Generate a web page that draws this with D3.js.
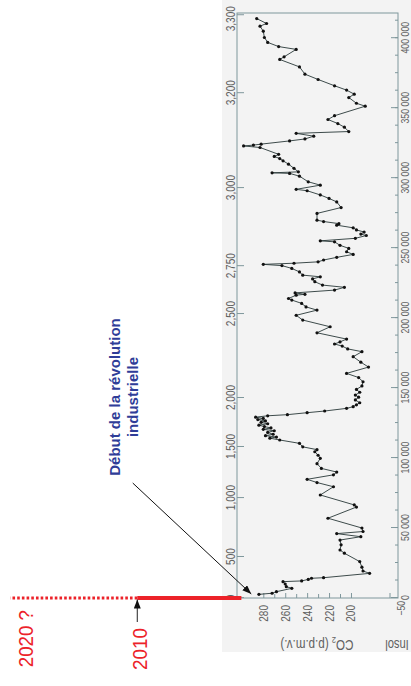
<!DOCTYPE html>
<html>
<head>
<meta charset="utf-8">
<script src="https://cdn.jsdelivr.net/npm/d3@7"></script>
<style>
  html, body { margin: 0; padding: 0; background: #ffffff; }
  svg { display: block; }
  text { font-family: "Liberation Sans", Arial, Helvetica, sans-serif; }
</style>
</head>
<body>
<svg id="chart" width="411" height="686"></svg>
<script>
// Vostok ice core record: atmospheric CO2 over the last ~420 000 years
const ageKyr = [
  2.6, 3.4, 4.5, 6.9, 8.1, 10.0, 11.7, 12.2, 13.3, 14.1, 14.5, 17.6, 19.3, 22.0, 26.0,
  32.0, 34.3, 38.0, 41.4, 43.8, 46.0, 47.5, 50.0, 57.0, 65.0, 66.5, 73.6, 79.5, 82.5,
  84.8, 88.0, 90.0, 92.6, 96.0, 99.8, 102.0, 104.5, 106.0, 108.0, 110.5, 112.9, 114.2,
  115.0, 116.0, 117.0, 118.3, 119.5, 120.5, 121.5, 122.5, 123.5, 124.5, 125.5, 126.5,
  127.5, 128.3, 129.2, 130.2, 131.0, 132.4, 133.6, 135.5, 136.7, 138.0, 139.5, 141.5,
  143.5, 145.0, 147.0, 149.0, 151.5, 154.5, 157.5, 160.5, 165.0, 168.5, 172.4, 176.0,
  178.0, 180.0, 181.5, 183.0, 185.0, 189.5, 193.8, 198.6, 202.0, 205.7, 208.0, 210.5,
  212.9, 214.0, 216.4, 217.0, 218.0, 220.0, 222.0, 223.6, 226.0, 228.0, 229.5, 230.7,
  233.0, 235.5, 237.5, 238.4, 239.2, 240.2, 241.5, 243.4, 245.5, 247.4, 249.8, 252.0,
  254.5, 255.2, 257.0, 259.0, 260.0, 261.5, 263.0, 264.5, 266.4, 267.5, 269.0, 270.0,
  274.8, 279.0, 283.0, 285.5, 288.0, 291.0, 292.0, 295.0, 297.4, 301.4, 303.4, 303.8,
  304.5, 307.0, 310.0, 312.4, 314.0, 315.5, 317.0, 321.9, 323.0, 323.6, 324.3, 326.6,
  328.0, 330.0, 332.0, 333.3, 336.4, 339.0, 341.9, 344.6, 351.4, 353.5, 357.6, 360.0,
  362.9, 366.0, 370.5, 374.3, 379.5, 384.8, 386.7, 392.0, 394.0, 397.0, 400.5, 405.0,
  408.6, 410.5, 414.0
];
const co2Ppm = [
  284, 272, 268, 254, 259, 260, 262, 245, 239, 236, 225, 183, 189, 190, 192,
  206, 210, 209, 210, 191, 213, 189, 190, 221, 195, 197, 228, 216, 231,
  240, 216, 213, 227, 231, 228, 230, 233, 231, 244, 247, 265, 274,
  268, 278, 271, 276, 270, 280, 273, 279, 284, 276, 282, 278,
  285, 280, 287, 276, 258, 240, 224, 204, 198, 195, 192, 196,
  193, 196, 192, 195, 190, 189, 193, 204, 184, 191, 198, 190,
  203, 208, 215, 210, 204, 231, 219, 244, 250, 231, 241, 245,
  254, 257, 250, 242, 251, 215, 206, 226, 233, 235, 228, 244,
  247, 254, 263, 280, 252, 230, 225, 213, 198, 204, 202, 210,
  215, 228, 196, 186, 191, 188, 195, 198, 213, 211, 225, 231,
  231, 209, 213, 220, 228, 240, 250, 228, 239, 247, 256, 272,
  248, 252, 257, 262, 265, 270, 266, 283, 298, 289, 282, 256,
  242, 234, 250, 202, 206, 212, 221, 215, 187, 195, 202, 197,
  204, 215, 230, 242, 247, 265, 261, 250, 266, 276, 279, 280,
  283, 277, 286
];

// depth of the ice (m) and the age (kyr) reached at that depth
const depthTicks      = [0, 500, 1000, 1500, 2000, 2500, 2750, 3000, 3200, 3300];
const depthTickAgeKyr = [0, 29.3, 71.4, 107.9, 142.9, 202.9, 237.1, 292.9, 360.7, 416.4];

const ageMajorKyr = [0, 50, 100, 150, 200, 250, 300, 350, 400];
const ageMinorKyr = d3.range(0, 418, 12.5);
const co2LabelTicks = [200, 220, 240, 260, 280];
const co2MinorTicks = [210, 230, 250, 270];

// present-day rise drawn on the CO2 scale
const preIndustrialPpm = 300;
const modernLabels = ["2010", "2020 ?"];
const modernPpm = [395, 497];
const projectionEndPpm = 511;

const noteLines = ["Début de la révolution", "industrielle"];
const noteAt = { age: 143.6, ppm: 411 };
const noteTarget = { age: 2.9, ppm: 291 };

const W = 411, H = 686;
const RED = "#ec2229", BLUE = "#2f3d98", AXIS = "#7f979c", LABEL = "#616161";

const svg = d3.select("#chart");

svg.append("defs").append("marker")
  .attr("id", "head").attr("markerUnits", "userSpaceOnUse")
  .attr("markerWidth", 9).attr("markerHeight", 7)
  .attr("refX", 9).attr("refY", 3.5).attr("orient", "auto")
  .append("path").attr("d", "M0,0 L9,3.5 L0,7 Z").attr("fill", "#111");

// the figure is laid out with age running left to right, then turned a quarter turn
const L = svg.append("g").attr("transform", `translate(0,${H}) rotate(-90)`);

const x = d3.scaleLinear().domain([0, 418]).range([88, 673]);
const y = d3.scaleLinear().domain([158, 304]).range([397, 237]);

// shrink a label horizontally like the condensed type of the figure
function squeeze(sel, k) {
  sel.each(function () {
    const w = this.getComputedTextLength();
    d3.select(this).attr("textLength", w * k).attr("lengthAdjust", "spacingAndGlyphs");
  });
}

// paper panel behind the graph
L.append("rect").attr("x", 34).attr("y", 222).attr("width", H - 34).attr("height", W - 222)
  .attr("fill", "#f3f3f3");

// age axis (years BP)
const ageMinorAxis = L.append("g").attr("transform", `translate(0,${y(158) + 1})`)
  .call(d3.axisBottom(x).tickValues(ageMinorKyr).tickSize(-3).tickSizeOuter(0).tickFormat(""));
const ageAxis = L.append("g").attr("transform", `translate(0,${y(158) + 1})`)
  .call(d3.axisBottom(x).tickValues(ageMajorKyr).tickSize(-7).tickSizeOuter(0).tickPadding(3)
    .tickFormat(d => d3.format(",")(d * 1000).replace(/,/g, " ")));

// depth axis (m)
const depthAxis = L.append("g").attr("transform", `translate(0,${y(304)})`)
  .call(d3.axisTop(x).tickValues(depthTickAgeKyr).tickSize(-7).tickSizeOuter(0).tickPadding(2)
    .tickFormat((d, i) => d3.format(",")(depthTicks[i])));

// CO2 axis
const co2MinorAxis = L.append("g").attr("transform", `translate(${x(0)},0)`)
  .call(d3.axisLeft(y).tickValues(co2MinorTicks).tickSize(-4).tickSizeOuter(0).tickFormat(""));
const co2Axis = L.append("g").attr("transform", `translate(${x(0)},0)`)
  .call(d3.axisLeft(y).tickValues(co2LabelTicks).tickSize(-5).tickSizeOuter(0).tickPadding(7));

[ageMinorAxis, ageAxis, depthAxis, co2MinorAxis, co2Axis].forEach(g => {
  g.select(".domain").remove();
  g.selectAll("line").attr("stroke", AXIS).attr("stroke-width", 1);
  g.selectAll("text").attr("fill", LABEL).attr("font-family", null);
});
ageAxis.selectAll("text").attr("font-size", 11).call(squeeze, 0.8);
depthAxis.selectAll("text").attr("font-size", 12).call(squeeze, 0.84);
// keep the deepest label clear of the sheet edge
depthAxis.selectAll("text").filter((d, i) => i === depthTicks.length - 1).attr("dx", -4);
co2Axis.selectAll("text").attr("font-size", 12.5).call(squeeze, 0.8);

// frame
L.append("rect")
  .attr("x", x(0)).attr("y", y(304))
  .attr("width", x(418) - x(0)).attr("height", y(158) + 1 - y(304))
  .attr("fill", "none").attr("stroke", AXIS).attr("stroke-width", 1);

// insolation scale stub below the CO2 axis
L.append("line").attr("x1", x(0)).attr("x2", x(0) + 5).attr("y1", 390).attr("y2", 390)
  .attr("stroke", AXIS);
L.append("text").attr("x", x(0) - 3).attr("y", 405).attr("text-anchor", "end")
  .attr("font-size", 11).attr("fill", LABEL).text("−50").call(squeeze, 0.78);

// axis titles
const co2Title = L.append("text")
  .attr("transform", `translate(46,${y(231)}) rotate(-90)`)
  .attr("text-anchor", "middle").attr("font-size", 14).attr("fill", LABEL);
co2Title.append("tspan").text("CO");
co2Title.append("tspan").attr("font-size", 9).attr("dy", 3).text("2");
co2Title.append("tspan").attr("dy", -3).text(" (p.p.m.v.)");
co2Title.call(squeeze, 0.83);
L.append("text")
  .attr("transform", "translate(46,397) rotate(-90)")
  .attr("text-anchor", "middle").attr("font-size", 14).attr("fill", LABEL)
  .text("Insol").call(squeeze, 0.8);

// CO2 record
const record = ageKyr.map((a, i) => ({ age: a, ppm: co2Ppm[i] }));
L.append("path").datum(record)
  .attr("fill", "none").attr("stroke", "#283838").attr("stroke-width", 0.9)
  .attr("d", d3.line().x(d => x(d.age)).y(d => y(d.ppm)));
L.append("g").selectAll("circle").data(record).join("circle")
  .attr("cx", d => x(d.age)).attr("cy", d => y(d.ppm)).attr("r", 1.6).attr("fill", "#111");

// modern CO2: measured (solid) and projected (dotted)
L.append("line").attr("x1", x(0)).attr("x2", x(0))
  .attr("y1", y(modernPpm[0])).attr("y2", y(projectionEndPpm))
  .attr("stroke", RED).attr("stroke-width", 2.8).attr("stroke-dasharray", "2.6,2.1");
L.append("line").attr("x1", x(0)).attr("x2", x(0))
  .attr("y1", y(preIndustrialPpm)).attr("y2", y(modernPpm[0]))
  .attr("stroke", RED).attr("stroke-width", 4);

L.append("line").attr("x1", x(0) - 24).attr("x2", x(0) - 1.5)
  .attr("y1", y(modernPpm[0])).attr("y2", y(modernPpm[0]))
  .attr("stroke", "#222").attr("stroke-width", 1).attr("marker-end", "url(#head)");

L.append("text").attr("x", x(0) - 30).attr("y", y(modernPpm[0]) + 9.5)
  .attr("text-anchor", "end").attr("font-size", 21).attr("fill", RED)
  .text(modernLabels[0]).call(squeeze, 0.9);
L.append("text").attr("x", x(0) - 12).attr("y", y(modernPpm[1]) + 8)
  .attr("text-anchor", "end").attr("font-size", 21).attr("fill", RED)
  .text(modernLabels[1]).call(squeeze, 0.89);

// industrial revolution note
const note = L.append("text").attr("text-anchor", "middle")
  .attr("font-size", 15).attr("font-weight", "bold").attr("fill", BLUE);
noteLines.forEach((t, i) => {
  note.append("tspan").attr("x", x(noteAt.age)).attr("y", y(noteAt.ppm) + i * 18).text(t);
});
L.append("line")
  .attr("x1", x(noteAt.age) - 86).attr("y1", y(noteAt.ppm) + 13)
  .attr("x2", x(noteTarget.age)).attr("y2", y(noteTarget.ppm))
  .attr("stroke", "#111").attr("stroke-width", 1).attr("marker-end", "url(#head)");
</script>
</body>
</html>
